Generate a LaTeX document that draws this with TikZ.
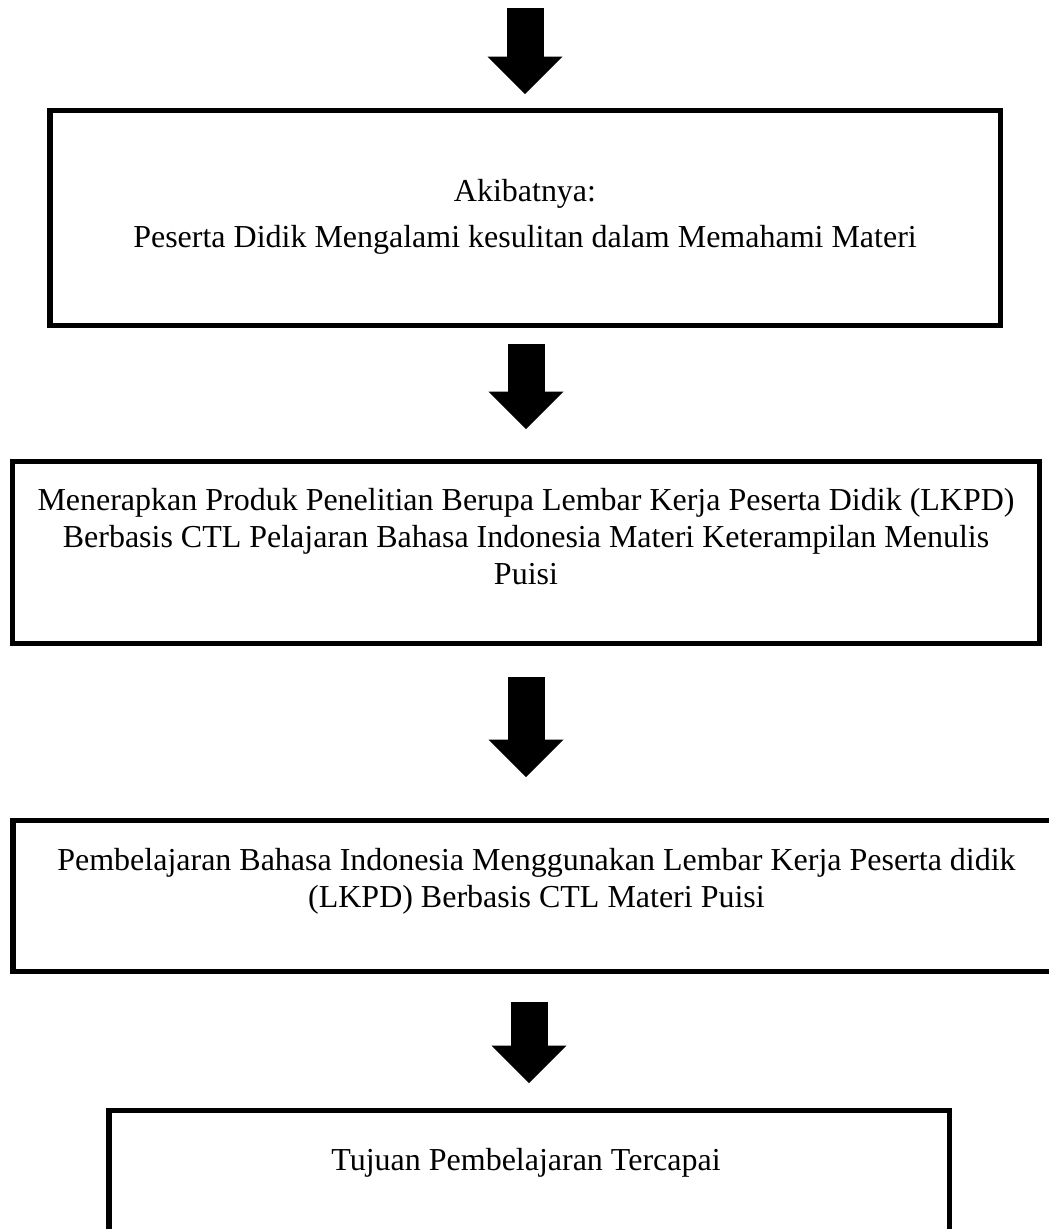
\documentclass[tikz,border=0pt]{standalone}
\usepackage{fontspec}
\setmainfont{Liberation Serif}
\usetikzlibrary{arrows.meta,positioning}

\begin{document}
\begin{tikzpicture}[
 font=\fontsize{18.2pt}{20.9pt}\selectfont,
 box/.style={draw,line width=2.85pt,inner sep=0pt},
 txt/.style={align=center,inner sep=0pt,anchor=north},
 blockarr/.style={line width=0.74cm,-{Triangle[length=0.75cm,width=1.5cm,line width=0pt]}}]
\useasboundingbox (0,0) rectangle (20.98,-24.58);
\node[box,minimum width=19cm,minimum height=4.3cm] (b1) at (10.5,-4.35) {};
\node[txt] (t1) at (10.5,-3.58)
  {Akibatnya:\\[0.19cm]Peserta Didik Mengalami kesulitan dalam Memahami Materi};
\node[box,minimum width=20.54cm,minimum height=3.65cm] (b2) at (10.52,-11.045) {};
\node[txt] (t2) at (10.52,-9.76)
  {Menerapkan Produk Penelitian Berupa Lembar Kerja Peserta Didik (LKPD)\\
   Berbasis CTL Pelajaran Bahasa Indonesia Materi Keterampilan Menulis\\Puisi};
\node[box,minimum width=21.14cm,minimum height=3.02cm] (b3) at (10.83,-17.91) {};
\node[txt] (t3) at (10.73,-16.96)
  {Pembelajaran Bahasa Indonesia Menggunakan Lembar Kerja Peserta didik\\
   (LKPD) Berbasis CTL Materi Puisi};
\node[box,minimum width=16.8cm,minimum height=3.2cm] (b4) at (10.58,-23.8) {};
\node[txt] (t4) at (10.52,-22.96) {Tujuan Pembelajaran Tercapai};
\coordinate (top) at (10.5,-0.16);
\draw[blockarr,shorten >=0.27cm] (top)--(top |- b1.north);
\draw[blockarr,shorten <=0.33cm,shorten >=0.59cm] (b2.north |- b1.south)--(b2.north);
\draw[blockarr,shorten <=0.62cm,shorten >=0.81cm] (b2.south)--(b2.south |- b3.north);
\draw[blockarr,shorten <=0.57cm,shorten >=0.49cm] (b4.north |- b3.south)--(b4.north);
\end{tikzpicture}
\end{document}
